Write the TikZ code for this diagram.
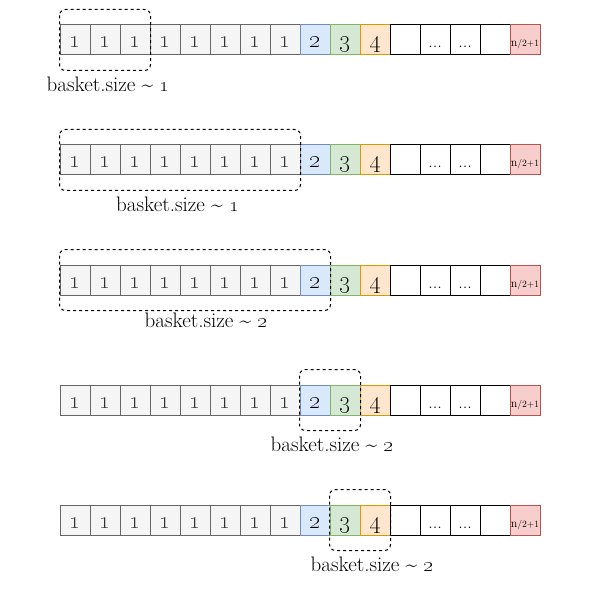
\documentclass[tikz,border=0pt]{standalone}
\usepackage{xcolor}
\definecolor{grayfill}{HTML}{F5F5F5}
\definecolor{graydraw}{HTML}{666666}
\definecolor{bluefill}{HTML}{DAE8FC}
\definecolor{bluedraw}{HTML}{6C8EBF}
\definecolor{greenfill}{HTML}{D5E8D4}
\definecolor{greendraw}{HTML}{82B366}
\definecolor{orangefill}{HTML}{FFE6CC}
\definecolor{orangedraw}{HTML}{D79B00}
\definecolor{redfill}{HTML}{F8CECC}
\definecolor{reddraw}{HTML}{B85450}
\newcommand\osn[1]{\oldstylenums{#1}}
\tikzset{
  cellbox/.style={draw, line width=1pt, minimum width=30pt, minimum height=30pt,
    inner sep=0pt, text height=16pt, text depth=0pt,
    font=\fontsize{24}{24}\selectfont},
  graycell/.style={cellbox, fill=grayfill, draw=graydraw, text=black!80},
  bluecell/.style={cellbox, fill=bluefill, draw=bluedraw},
  greencell/.style={cellbox, fill=greenfill, draw=greendraw},
  orangecell/.style={cellbox, fill=orangefill, draw=orangedraw},
  whitecell/.style={cellbox, fill=white, draw=black},
  redcell/.style={cellbox, fill=redfill, draw=reddraw, text height=14pt},
  basketbox/.style={draw=black, line width=1pt, dash pattern=on 3pt off 3pt, rounded corners=6pt},
  lbl/.style={anchor=base, inner sep=0pt, font=\fontsize{21}{22}\selectfont}
}
\begin{document}
\begin{tikzpicture}[x=1pt,y=-1pt]
\useasboundingbox (0,0) rectangle (601,601);
\foreach \r in {1,...,5}{
  \pgfmathsetmacro\yy{40+120*(\r-1)}
  \foreach \i in {1,...,8}{
    \node[graycell] (r\r-\i) at ({45+30*\i},\yy) {\osn{1}};
  }
  \node[bluecell]   (r\r-9)  at (315,\yy) {\osn{2}};
  \node[greencell]  (r\r-10) at (345,\yy) {\osn{3}};
  \node[orangecell] (r\r-11) at (375,\yy) {\osn{4}};
  \node[whitecell]  (r\r-12) at (405,\yy) {};
  \node[whitecell]  (r\r-13) at (435,\yy) {\fontsize{18}{18}\selectfont...};
  \node[whitecell]  (r\r-14) at (465,\yy) {\fontsize{18}{18}\selectfont...};
  \node[whitecell]  (r\r-15) at (495,\yy) {};
  \node[redcell]    (r\r-16) at (525,\yy) {\fontsize{12}{12}\selectfont n\fontsize{9.5}{9.5}\selectfont/2+1};
}
\draw[basketbox] ([yshift=15pt]r1-1.north west) rectangle ([yshift=-15pt]r1-3.south east);
\draw[basketbox] ([yshift=15pt]r2-1.north west) rectangle ([yshift=-15pt]r2-8.south east);
\draw[basketbox] ([yshift=15pt]r3-1.north west) rectangle ([yshift=-15pt]r3-9.south east);
\draw[basketbox] ([yshift=15pt]r4-9.north west) rectangle ([yshift=-15pt]r4-10.south east);
\draw[basketbox] ([yshift=15pt]r5-10.north west) rectangle ([yshift=-15pt]r5-11.south east);
\node[lbl] (l1) at (108,91.7) {basket.size \textasciitilde\ \osn{1}};
\node[lbl] (l2) at (177.5,211.7) {basket.size \textasciitilde\ \osn{1}};
\node[lbl] (l3) at (206,327.7) {basket.size \textasciitilde\ \osn{2}};
\node[lbl] (l4) at (332,451.7) {basket.size \textasciitilde\ \osn{2}};
\node[lbl] (l5) at (372,571.7) {basket.size \textasciitilde\ \osn{2}};
\end{tikzpicture}
\end{document}
